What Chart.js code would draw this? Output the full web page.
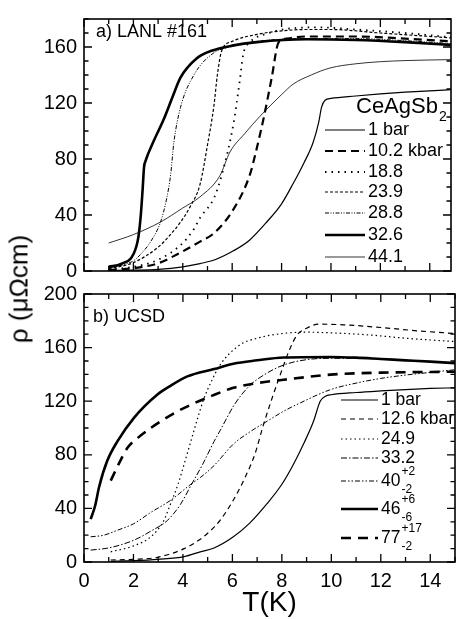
<!DOCTYPE html>
<html><head><meta charset="utf-8">
<script src="https://cdn.jsdelivr.net/npm/chart.js@4.4.1/dist/chart.umd.min.js"></script>
<style>
html,body{margin:0;padding:0;background:#fff;}
#wrap{position:relative;width:457px;height:619px;overflow:hidden;background:#fff;}
canvas{position:absolute;left:0;}
#cA{top:0;} #cB{top:275px;}
#ylab{position:absolute;left:19px;top:289px;transform:translate(-50%,-50%) rotate(-90deg);font:26px 'Liberation Sans',Arial,sans-serif;white-space:nowrap;color:#000;}
</style></head><body>
<div id="wrap">
<canvas id="cA" width="457" height="290"></canvas>
<canvas id="cB" width="457" height="344"></canvas>
<div id="ylab">ρ (μΩcm)</div>
</div>
<script>
// ---------- DATA (T in K, rho in µΩcm) ----------
// Panel a) LANL #161
const topLabels = ['1 bar', '10.2 kbar', '18.8', '23.9', '28.8', '32.6', '44.1'];
const a_1bar = [[1.0,0.3],[2,0.6],[3,1.2],[4,3],[4.7,5.3],[5.3,8],[6.05,14.4],[6.7,22],[7.4,35],[8,48],[8.47,62.5],[8.9,77],[9.28,92],[9.5,106],[9.62,117],[9.76,122],[10,123.3],[11,125],[12,126.5],[13,127.7],[14,128.7],[14.85,129.5]];
const a_10p2 = [[1.0,0.5],[2,2],[3,5.5],[3.78,12],[4.7,21],[5.26,27],[6.05,44],[6.72,69],[7.0,88],[7.26,108],[7.6,138],[7.87,163],[8.2,166],[9,167.5],[11,167.5],[13,166],[14.85,164]];
const a_18p8 = [[1,1],[2,3],[3,8],[4,20],[4.45,30],[4.7,38],[5.26,52],[5.6,70],[6.05,105],[6.3,135],[6.45,155],[6.7,163],[7.5,170],[8.5,173.5],[9.5,174],[11,172.5],[13,170],[14.85,167]];
const a_23p9 = [[1,1.5],[2,6],[3,17],[3.5,26],[3.91,35],[4.3,46],[4.7,62],[5.0,90],[5.26,118],[5.4,140],[5.57,157],[6,164],[7,169],[8,171.5],[9,172.5],[10,172.5],[12,170],[14.85,166.5]];
const a_28p8 = [[1,2],[1.5,4],[2.02,7.5],[2.4,14],[2.7,21],[3.1,35],[3.35,52],[3.51,69],[3.64,92],[3.91,117],[4.45,140],[5.19,155],[6,160.5],[7,164],[9,166],[11,166],[13,164.5],[14.85,162.5]];
const a_32p6 = [[1.0,3],[1.5,5],[2.0,12],[2.2,24],[2.3,40],[2.38,60],[2.43,74],[2.5,79],[2.8,92],[3.22,108],[3.6,125],[3.9,138],[4.57,152],[5.2,157.5],[6,161],[7,163.5],[9,165.5],[11,165],[13,163.5],[14.85,161.5]];
const a_44p1 = [[1.0,20],[2,26],[3.1,35],[4,45],[4.7,53],[5.5,68],[5.91,85],[6.5,98],[7.13,110.6],[8,126],[8.47,133.5],[9.2,140],[9.96,145],[11,148],[12,149.5],[13,150.3],[14.85,151]];

// Panel b) UCSD
const botLabels = ['1 bar', '12.6 kbar', '24.9', '33.2', '40', '46', '77'];
const botSup = ['', '', '', '', '+2', '+6', '+17'];
const botSub = ['', '', '', '', '-2', '-6', '-2'];
const b_1bar = [[1.08,0.5],[2,1],[3,2],[4.05,4],[4.7,7.6],[5.26,10.5],[6.04,18.8],[6.7,29],[7.4,43.5],[8,58],[8.47,73],[8.9,89],[9.28,105],[9.55,120],[9.76,123.7],[10,124.8],[11,126.5],[12,127.7],[13,128.7],[14,129.5],[15,130]];
const b_12p6 = [[1.08,1.5],[2,2],[2.97,3.5],[4.05,10],[4.7,17],[5.26,26],[5.5,31],[6.0,45],[6.45,60.7],[6.9,80],[7.26,102.7],[7.6,122],[7.94,140],[8.3,158],[8.6,169],[9,174.5],[9.5,177.5],[10.5,177],[12,175],[13.5,172.5],[15,170.5]];
const b_24p9 = [[1.08,7.6],[2,12],[2.7,18.8],[3.2,30],[3.5,43.4],[3.8,58],[4.05,73],[4.35,92],[4.59,107],[4.85,122],[5.13,134],[5.5,147],[6.3,162],[7,167],[8.07,170.6],[9,171.5],[10,171],[11.5,169.5],[13,167],[15,164.5]];
const b_33p2 = [[0.27,8.9],[1,10.5],[2.02,16.3],[2.7,23],[3.37,31],[3.9,43],[4.32,57],[4.8,73],[5.26,90],[5.5,98],[6.1,118],[6.72,132],[7.4,141],[8.07,147],[9,151],[10,152],[11,152],[12,151.5],[13,150.5],[14,149.5],[15,148.5]];
const b_40 = [[0.27,18.8],[0.8,20],[1.35,23.7],[2,28.5],[2.7,37],[3.5,46],[4.32,58],[4.7,63],[5.26,72],[6.04,88],[6.7,97],[7.4,105],[8.07,112.5],[8.74,118.7],[9.96,128.6],[11,133.5],[12,137],[13,139.5],[14,141.5],[15,143.5]];
const b_46 = [[0.27,32],[0.45,42],[0.61,56],[0.94,75.5],[1.35,90],[2.02,107.6],[2.97,125],[3.5,131.5],[4.18,138.5],[5.26,144],[6.04,148],[7,150.5],[8.07,152.6],[9.96,153],[11,152.5],[12,151.5],[13,150.5],[14,149.5],[15,148.4]];
const b_77 = [[1.08,60.7],[1.4,73],[1.75,85],[2.2,93],[2.7,100],[3.64,111],[4.4,118],[5.13,123.7],[6.04,130],[7,133.5],[8.07,136],[9.96,139.8],[11,140.8],[12,141.3],[13,141.6],[14,141.8],[15,142]];

// Ticks
const topYTicks = [0, 40, 80, 120, 160];
const botYTicks = [0, 40, 80, 120, 160, 200];
const botXTicks = [0, 2, 4, 6, 8, 10, 12, 14];

// ---------- STYLES ----------
const FONT = "'Liberation Sans', Arial, Helvetica, sans-serif";
const topStyles = [
  {w:1.2, dash:[]},
  {w:2.2, dash:[8,5]},
  {w:1.8, dash:[1.5,5]},
  {w:1.2, dash:[3,2]},
  {w:1.0, dash:[4,1.5,1,1.5,1,1.5]},
  {w:2.6, dash:[]},
  {w:0.8, dash:[]}
];
const botStyles = [
  {w:1.2, dash:[]},
  {w:1.2, dash:[5,4]},
  {w:1.2, dash:[1.5,3]},
  {w:1.0, dash:[6,2,1.5,2]},
  {w:1.0, dash:[5,2,1.5,2,1.5,2]},
  {w:2.6, dash:[]},
  {w:2.6, dash:[10,7]}
];

function mk(pairs, label, st) {
  return {
    label: label,
    data: pairs.map(p => ({x: p[0], y: p[1]})),
    showLine: true, pointRadius: 0, borderColor: '#000', backgroundColor: '#000',
    borderWidth: st.w, borderDash: st.dash, cubicInterpolationMode: 'monotone', fill: false
  };
}

const frameTicks = {
  id: 'frameTicks',
  afterDraw(chart, args, o) {
    const {ctx, chartArea: a} = chart;
    const xs = chart.scales.x, ys = chart.scales.y;
    ctx.save();
    ctx.strokeStyle = '#000';
    ctx.lineWidth = 1.6;
    ctx.setLineDash([]);
    ctx.strokeRect(a.left, a.top, a.right - a.left, a.bottom - a.top);
    ctx.lineWidth = 1.3;
    ctx.beginPath();
    for (let t = 0; t <= o.xMax + 1e-6; t += 1) {
      const px = xs.getPixelForValue(t);
      const len = (t % 2 === 0) ? 8 : 5;
      ctx.moveTo(px, a.bottom); ctx.lineTo(px, a.bottom - len);
      ctx.moveTo(px, a.top); ctx.lineTo(px, a.top + len);
    }
    for (let v = 0; v <= o.yMax + 1e-6; v += 10) {
      const py = ys.getPixelForValue(v);
      const len = (v % 40 === 0) ? 8 : 4.5;
      ctx.moveTo(a.left, py); ctx.lineTo(a.left + len, py);
      ctx.moveTo(a.right, py); ctx.lineTo(a.right - len, py);
    }
    ctx.stroke();
    // panel label
    ctx.fillStyle = '#000';
    ctx.font = '18px ' + FONT;
    ctx.textBaseline = 'middle';
    ctx.textAlign = 'left';
    ctx.fillText(o.panel, o.px, o.py);
    ctx.restore();
  }
};

const legendPlug = {
  id: 'legendPlug',
  afterDraw(chart, args, o) {
    const ctx = chart.ctx;
    ctx.save();
    ctx.fillStyle = '#000'; ctx.strokeStyle = '#000';
    ctx.textBaseline = 'middle'; ctx.textAlign = 'left';
    if (o.title) {
      ctx.font = '22px ' + FONT;
      ctx.fillText(o.title, o.titleX, o.titleY);
      const w = ctx.measureText(o.title).width;
      ctx.font = '14px ' + FONT;
      ctx.fillText(o.titleSub, o.titleX + w + 1, o.titleY + 10);
    }
    chart.data.datasets.forEach((ds, i) => {
      const y = o.rows[i];
      ctx.lineWidth = ds.borderWidth;
      ctx.setLineDash(ds.borderDash || []);
      ctx.beginPath(); ctx.moveTo(o.x0, y); ctx.lineTo(o.x1, y); ctx.stroke();
      ctx.setLineDash([]);
      ctx.font = o.fontSize + 'px ' + FONT;
      ctx.fillText(ds.label, o.tx, y);
      if (o.sup && o.sup[i]) {
        const w = ctx.measureText(ds.label).width;
        ctx.font = '12px ' + FONT;
        ctx.fillText(o.sup[i], o.tx + w + 1, y - 9);
        ctx.fillText(o.sub[i], o.tx + w + 1, y + 9);
      }
    });
    ctx.restore();
  }
};

const tickFont = {size: 20, family: FONT};

// ---------- TOP CHART ----------
new Chart(document.getElementById('cA'), {
  type: 'scatter',
  data: { datasets: [a_1bar, a_10p2, a_18p8, a_23p9, a_28p8, a_32p6, a_44p1].map((d, i) => mk(d, topLabels[i], topStyles[i])) },
  options: {
    responsive: false, animation: false, devicePixelRatio: 1,
    layout: {padding: {left: 0, right: 6, top: 8, bottom: 19}},
    plugins: {
      legend: {display: false}, tooltip: {enabled: false},
      frameTicks: {xMax: 14, yMax: 180, panel: 'a) LANL #161', px: 96, py: 32},
      legendPlug: {rows: [130, 151, 172, 192, 213, 235, 257], x0: 325, x1: 365, tx: 368, fontSize: 18,
                   title: 'CeAgSb', titleSub: '2', titleX: 356, titleY: 107}
    },
    scales: {
      x: {type: 'linear', min: 0, max: 14.86, display: false},
      y: {type: 'linear', min: 0, max: 180,
          afterBuildTicks: s => { s.ticks = topYTicks.map(v => ({value: v})); },
          afterFit: s => { s.width = 84; },
          grid: {display: false, drawTicks: false}, border: {display: false},
          ticks: {font: tickFont, color: '#000', padding: 7}}
    }
  },
  plugins: [frameTicks, legendPlug]
});

// ---------- BOTTOM CHART ----------
new Chart(document.getElementById('cB'), {
  type: 'scatter',
  data: { datasets: [b_1bar, b_12p6, b_24p9, b_33p2, b_40, b_46, b_77].map((d, i) => mk(d, botLabels[i], botStyles[i])) },
  options: {
    responsive: false, animation: false, devicePixelRatio: 1,
    layout: {padding: {left: 0, right: 2, top: 17, bottom: 0}},
    plugins: {
      legend: {display: false}, tooltip: {enabled: false},
      frameTicks: {xMax: 15, yMax: 200, panel: 'b) UCSD', px: 93, py: 42},
      legendPlug: {rows: [125, 144, 164, 183, 206, 234, 263], x0: 341, x1: 378, tx: 381, fontSize: 17.5,
                   sup: botSup, sub: botSub}
    },
    scales: {
      x: {type: 'linear', min: 0, max: 15,
          afterBuildTicks: s => { s.ticks = botXTicks.map(v => ({value: v})); },
          afterFit: s => { s.height = 57; },
          grid: {display: false, drawTicks: false}, border: {display: false},
          ticks: {font: tickFont, color: '#000', padding: 7, maxRotation: 0, autoSkip: false},
          title: {display: true, text: 'T(K)', color: '#000', font: {size: 28, family: FONT, lineHeight: 1}, padding: {top: 0, bottom: 2}}},
      y: {type: 'linear', min: 0, max: 200,
          afterBuildTicks: s => { s.ticks = botYTicks.map(v => ({value: v})); },
          afterFit: s => { s.width = 84; },
          grid: {display: false, drawTicks: false}, border: {display: false},
          ticks: {font: tickFont, color: '#000', padding: 7}}
    }
  },
  plugins: [frameTicks, legendPlug]
});
</script>
</body></html>
